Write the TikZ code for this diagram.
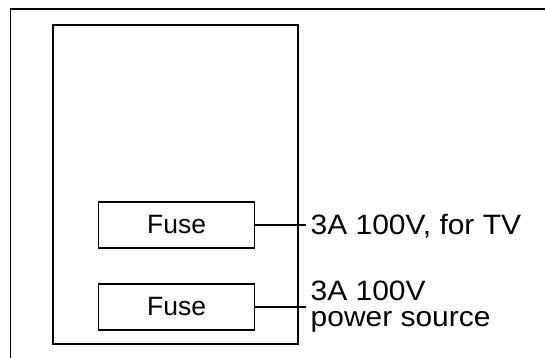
\documentclass[tikz,border=0pt]{standalone}
\usepackage{fontspec}
\setmainfont{Liberation Sans}
\newfontfamily\widesans[FakeStretch=1.07]{Liberation Sans}
\usetikzlibrary{positioning}

\begin{document}
\begin{tikzpicture}[
  x=1pt, y=-1pt,
  line width=1.4pt,
  fusebox/.style={draw, minimum width=156pt, minimum height=46pt,
                  inner sep=0pt, font=\fontsize{26.5}{26}\selectfont},
  rating/.style={align=left, inner xsep=4pt, inner ysep=0pt,
                 font=\widesans\fontsize{28}{26}\selectfont},
  wire/.style={line width=1.4pt},
]
\useasboundingbox (0,0) rectangle (545,357);
\clip (0,0) rectangle (545,357);

%% outer frame (runs off the page at right and bottom)
\draw[line width=1.8pt] (10.5,380) |- (570,8.7);

%% panel
\node[draw, minimum width=245pt, minimum height=319pt] (panel) at (175.5,184.5) {};

%% fuses
\node[fusebox] (fusetv) at (176.7,225) {Fuse};
\node[fusebox] (fusepwr) at (176.7,307) {Fuse};

%% ratings
\node[rating, anchor=west] (ratetv) at (306,226) {3A 100V, for TV};
\node[rating, anchor=west] (ratepwr) at (306,307) {3A 100V\\power source};

\draw[wire] (fusetv.east) -- (fusetv.east -| ratetv.west);
\draw[wire] (fusepwr.east) -- (fusepwr.east -| ratepwr.west);

\end{tikzpicture}
\end{document}
